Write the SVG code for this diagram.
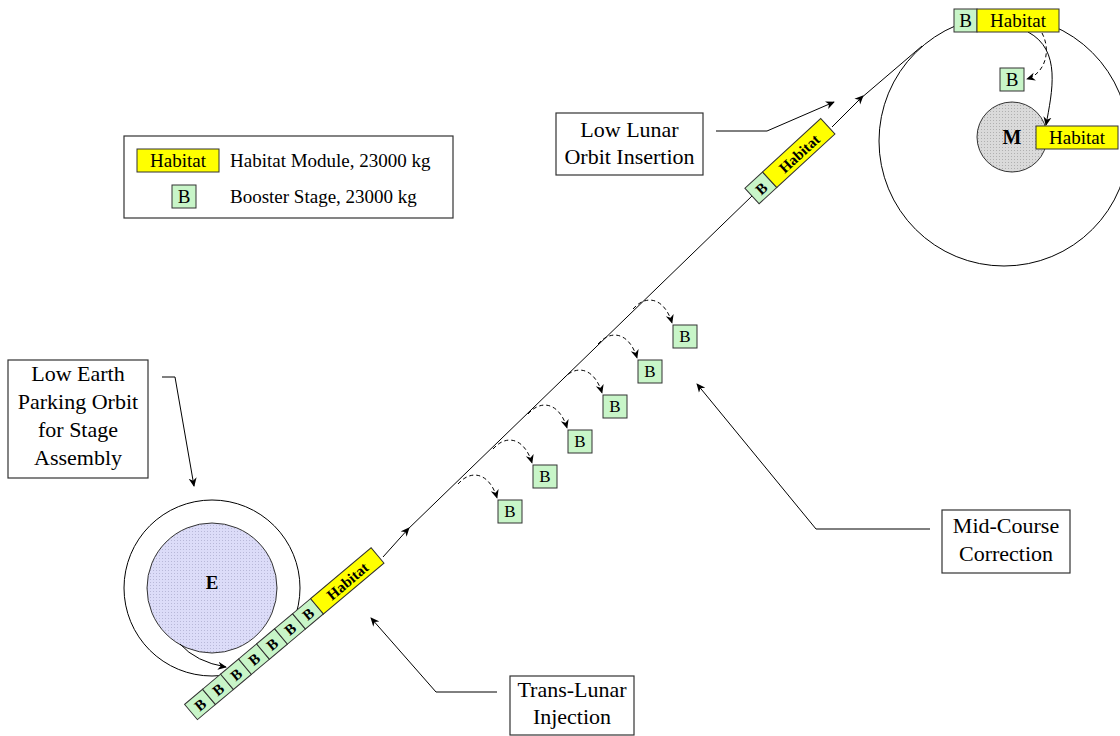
<svg xmlns="http://www.w3.org/2000/svg" width="1120" height="736" viewBox="0 0 1120 736">
<style>
.lbl{font-family:"Liberation Serif","Times New Roman",serif;font-size:22px;fill:#000;text-anchor:middle}
.leg{font-family:"Liberation Serif","Times New Roman",serif;font-size:19px;fill:#000}
.bt{font-family:"Liberation Serif","Times New Roman",serif;font-size:17px;fill:#000;text-anchor:middle}
.st{font-family:"Liberation Serif","Times New Roman",serif;font-size:15px;fill:#000;text-anchor:middle;font-weight:bold}
.hb{fill:#ffff00;stroke:#333;stroke-width:1}
.bb{fill:#c8f5c8;stroke:#333;stroke-width:1}
.box{fill:#fff;stroke:#333;stroke-width:1.2}
.ln{fill:none;stroke:#000;stroke-width:1}
.dash{fill:none;stroke:#000;stroke-width:1;stroke-dasharray:4,3}
</style>
<defs>
<marker id="arr" viewBox="0 0 10 10" refX="9" refY="5" markerWidth="9" markerHeight="9" orient="auto" markerUnits="userSpaceOnUse">
<path d="M0,0.5 L10,5 L0,9.5 L3,5 z" fill="#000"/>
</marker>
<pattern id="dotE" width="3" height="3" patternUnits="userSpaceOnUse">
<rect width="3" height="3" fill="#dcdcf8"/>
<rect width="1" height="1" fill="#b8b8d8"/>
</pattern>
<pattern id="dotM" width="3" height="3" patternUnits="userSpaceOnUse">
<rect width="3" height="3" fill="#dadada"/>
<rect width="1" height="1" fill="#b0b0b0"/>
</pattern>
</defs>
<rect width="1120" height="736" fill="#fff"/>

<g id="legend">
<rect class="box" x="124" y="136" width="329" height="82"/>
<rect class="hb" x="137" y="149" width="82" height="23"/>
<text class="leg" x="178" y="167" text-anchor="middle">Habitat</text>
<text class="leg" x="230" y="167">Habitat Module, 23000 kg</text>
<rect class="bb" x="172" y="185" width="24" height="23"/>
<text class="leg" x="184" y="203" text-anchor="middle">B</text>
<text class="leg" x="230" y="203">Booster Stage, 23000 kg</text>
</g>

<g id="earth">
<circle cx="212" cy="588" r="88" fill="none" stroke="#000" stroke-width="1"/>
<circle cx="212" cy="588" r="65" fill="url(#dotE)" stroke="#333" stroke-width="1"/>
<text x="212" y="589" font-family="Liberation Serif,serif" font-size="19" font-weight="bold" text-anchor="middle">E</text>
</g>

<g id="moon">
<circle cx="1004" cy="141" r="125" fill="none" stroke="#000" stroke-width="1"/>
<circle cx="1012" cy="137" r="35" fill="url(#dotM)" stroke="#333" stroke-width="1"/>
<text x="1012" y="144" font-family="Liberation Serif,serif" font-size="20" font-weight="bold" text-anchor="middle">M</text>
</g>

<g id="connectors">
<path class="ln" d="M180,644 Q196,662 226,667" marker-end="url(#arr)"/>
<path class="ln" d="M383,557 L409,528" marker-end="url(#arr)"/>
<path class="ln" d="M405,532 L753,195"/>
<path class="ln" d="M832,127 L863,96" stroke-width="1.6" marker-end="url(#arr)"/>
<path class="ln" d="M860,99 L922,46"/>
<path class="dash" d="M458,484 C472,468 490,474 497,498" marker-end="url(#arr)"/>
<path class="dash" d="M493,449 C507,433 525,439 532,463" marker-end="url(#arr)"/>
<path class="dash" d="M528,414 C542,398 560,404 567,428" marker-end="url(#arr)"/>
<path class="dash" d="M563,379 C577,363 595,369 602,393" marker-end="url(#arr)"/>
<path class="dash" d="M598,344 C612,328 630,334 637,358" marker-end="url(#arr)"/>
<path class="dash" d="M633,309 C647,293 665,299 672,323" marker-end="url(#arr)"/>
<path class="dash" d="M1042,33 C1052,52 1044,74 1027,79" marker-end="url(#arr)"/>
<path class="ln" d="M1028,32 C1062,50 1052,92 1046,125" marker-end="url(#arr)"/>
<polyline class="ln" points="162,377 175,377 194,486" marker-end="url(#arr)"/>
<polyline class="ln" points="716,131 767,131 834,102" marker-end="url(#arr)"/>
<polyline class="ln" points="497,692 436,692 371,618" marker-end="url(#arr)"/>
<polyline class="ln" points="930,529 816,529 697,384" marker-end="url(#arr)"/>
</g>

<g id="earth-stack" transform="translate(191,712) rotate(-40)">
<rect class="bb" x="0" y="-10" width="23.5" height="20"/>
<rect class="bb" x="23.5" y="-10" width="23.5" height="20"/>
<rect class="bb" x="47" y="-10" width="23.5" height="20"/>
<rect class="bb" x="70.5" y="-10" width="23.5" height="20"/>
<rect class="bb" x="94" y="-10" width="23.5" height="20"/>
<rect class="bb" x="117.5" y="-10" width="23.5" height="20"/>
<rect class="bb" x="141" y="-10" width="23.5" height="20"/>
<rect class="hb" x="164.5" y="-10" width="79" height="20"/>
<text class="st" x="11.75" y="5.5">B</text>
<text class="st" x="35.25" y="5.5">B</text>
<text class="st" x="58.75" y="5.5">B</text>
<text class="st" x="82.25" y="5.5">B</text>
<text class="st" x="105.75" y="5.5">B</text>
<text class="st" x="129.25" y="5.5">B</text>
<text class="st" x="152.75" y="5.5">B</text>
<text class="st" x="204" y="5.5" font-size="16">Habitat</text>
</g>

<g id="lloi-stack" transform="translate(752,196) rotate(-42.6)">
<rect class="bb" x="0" y="-10.5" width="24" height="21"/>
<rect class="hb" x="24" y="-10.5" width="79" height="21"/>
<text class="st" x="12" y="6" font-size="16">B</text>
<text class="st" x="63.5" y="6" font-size="17">Habitat</text>
</g>

<g id="orbit-stack">
<rect class="bb" x="954" y="9" width="23" height="23"/>
<rect class="hb" x="977" y="9" width="82" height="23"/>
<text class="leg" x="965.5" y="27" text-anchor="middle">B</text>
<text class="leg" x="1018" y="27" text-anchor="middle">Habitat</text>
</g>

<g id="released-b">
<rect class="bb" x="1000" y="68" width="24" height="23"/>
<text class="leg" x="1012" y="86" text-anchor="middle">B</text>
</g>

<g id="lunar-habitat">
<rect class="hb" x="1036" y="126" width="82" height="23"/>
<text class="leg" x="1077" y="144" text-anchor="middle">Habitat</text>
</g>

<g id="dropped-boosters">
<rect class="bb" x="498" y="500" width="24" height="23"/><text class="bt" x="510" y="517">B</text>
<rect class="bb" x="533" y="465" width="24" height="23"/><text class="bt" x="545" y="482">B</text>
<rect class="bb" x="568" y="430" width="24" height="23"/><text class="bt" x="580" y="447">B</text>
<rect class="bb" x="603" y="395" width="24" height="23"/><text class="bt" x="615" y="412">B</text>
<rect class="bb" x="638" y="360" width="24" height="23"/><text class="bt" x="650" y="377">B</text>
<rect class="bb" x="673" y="325" width="24" height="23"/><text class="bt" x="685" y="342">B</text>
</g>

<g id="label-leo">
<rect class="box" x="8" y="360" width="140" height="118"/>
<text class="lbl" x="78" y="381">Low Earth</text>
<text class="lbl" x="78" y="409">Parking Orbit</text>
<text class="lbl" x="78" y="437">for Stage</text>
<text class="lbl" x="78" y="465">Assembly</text>
</g>

<g id="label-lloi">
<rect class="box" x="556" y="113" width="147" height="62"/>
<text class="lbl" x="629.5" y="137">Low Lunar</text>
<text class="lbl" x="629.5" y="164">Orbit Insertion</text>
</g>

<g id="label-tli">
<rect class="box" x="510" y="676" width="124" height="59"/>
<text class="lbl" x="572" y="697">Trans-Lunar</text>
<text class="lbl" x="572" y="724">Injection</text>
</g>

<g id="label-mcc">
<rect class="box" x="942" y="510" width="128" height="63"/>
<text class="lbl" x="1006" y="533">Mid-Course</text>
<text class="lbl" x="1006" y="561">Correction</text>
</g>
</svg>
